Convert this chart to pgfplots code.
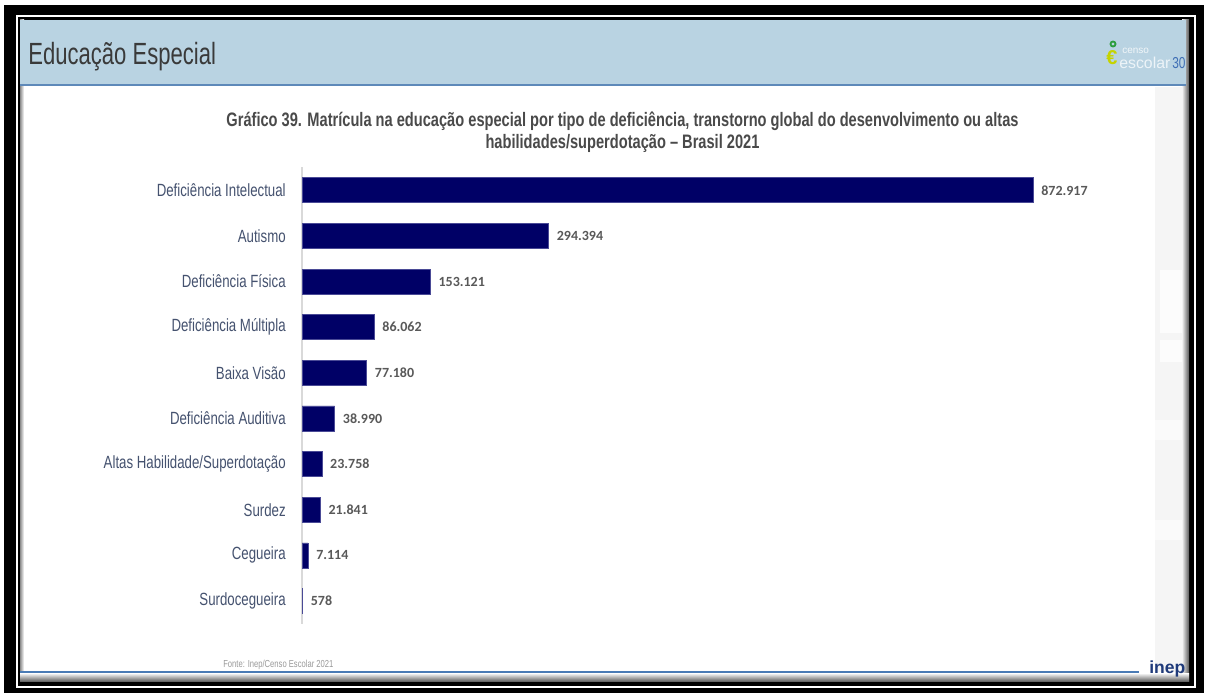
\documentclass[border=0pt]{standalone}
\usepackage{fontspec}
\setmainfont{Liberation Sans}
\newfontfamily\cond{Liberation Sans}[FakeStretch=0.75]
\newfontfamily\tcond{Liberation Sans}[FakeStretch=0.75]
\newfontfamily\hcond{Liberation Sans}[FakeStretch=0.72]
\newfontfamily\calib{Carlito}
\usepackage{pgfplots}
\pgfplotsset{compat=1.18}
\definecolor{navy}{HTML}{000066}
\definecolor{navyb}{HTML}{4A4A96}
\definecolor{hdr}{HTML}{B9D3E2}
\definecolor{hdrline}{HTML}{5E89B9}
\definecolor{lab}{HTML}{45526F}
\definecolor{tit}{HTML}{3A3A3A}
\definecolor{ttl}{HTML}{4A4A4A}
\definecolor{val}{HTML}{595959}
\definecolor{logoyel}{HTML}{C5D300}
\definecolor{logogreen}{HTML}{2E9E3E}
\definecolor{logoblue}{HTML}{3F6FB5}
\definecolor{inepblue}{HTML}{1F3A7A}
\definecolor{botline}{HTML}{4A7BB5}
\begin{document}
\begin{tikzpicture}[x=0.6pt,y=-0.6pt]
% frame
\fill[white] (0,0) rectangle (1206,693);
\fill[black] (4,5) rectangle (1204,693);
\draw[white,line width=1.2pt] (16.5,16.5) rectangle (1195,686.5);
\fill[white] (20,20) rectangle (1189,681);
% right watermark
\fill[black!4] (1155,87) rectangle (1189,672);
\fill[white!70!black!4] (1160,270) rectangle (1186,333);
\fill[white!70!black!4] (1160,340) rectangle (1186,362);
\fill[white!98!black] (1155,420) rectangle (1189,440);
\fill[white!98!black] (1155,520) rectangle (1189,540);
\shade[left color=black!5, right color=black!65] (1182,20) rectangle (1189,681);
\shade[left color=black!45, right color=white] (20,20) rectangle (24,681);
% bottom gradient
\shade[top color=white, bottom color=black!60] (20,673) rectangle (1189,681);
% header
\fill[hdr] (20,20) rectangle (1186,85);
\draw[hdrline,line width=1.5pt] (20,85) -- (1186,85);
\node[anchor=base west, inner sep=0pt, font=\hcond\fontsize{18.4}{20}\selectfont, color=tit] at (28,65) {Educação Especial};
% logo
\draw[logogreen, line width=1.1pt] (1113,44) circle (2.5);
\node[anchor=center, inner sep=0pt, font=\bfseries\fontsize{12}{12}\selectfont, color=logoyel] at (1112,58) {€};
\node[anchor=base west, inner sep=0pt, font=\fontsize{6}{6}\selectfont, color=white!80!hdr] at (1122,53.5) {censo};
\node[anchor=base west, inner sep=0pt, font=\fontsize{9.5}{9.5}\selectfont, color=white!75!hdr] at (1119,69) {escolar};
\node[anchor=base west, inner sep=0pt, font=\cond\fontsize{9.5}{9.5}\selectfont, color=logoblue] at (1172,69) {30};
% title
\node[anchor=base, inner sep=0pt, font=\tcond\bfseries\fontsize{11.7}{13}\selectfont, color=ttl] at (622.5,126) {Gráfico 39. Matrícula na educação especial por tipo de deficiência, transtorno global do desenvolvimento ou altas};
\node[anchor=base, inner sep=0pt, font=\tcond\bfseries\fontsize{11.7}{13}\selectfont, color=ttl] at (622.5,148) {habilidades/superdotação – Brasil 2021};
% footer
\node[anchor=base west, inner sep=0pt, font=\cond\fontsize{6.1}{7}\selectfont, color=black!40] at (223,667) {Fonte: Inep/Censo Escolar 2021};
\draw[botline, line width=0.9pt] (20,672) -- (1139,672);
\node[anchor=base west, inner sep=0pt, font=\bfseries\fontsize{10.5}{10.5}\selectfont, color=inepblue] at (1149,673) {inep};
% chart
\begin{axis}[
  at={(181.2pt,-374.28pt)}, anchor=south west,
  scale only axis, width=478.8pt, height=273.84pt,
  xbar, bar width=15pt,
  xmin=0, xmax=952913,
  ymin=-0.5, ymax=9.5, y dir=reverse,
  axis x line=none, axis y line*=left,
  y axis line style={-, draw=black!15, line width=0.8pt},
  ytick={0,...,9},
  yticklabels={Deficiência Intelectual, Autismo, Deficiência Física, Deficiência Múltipla, Baixa Visão, Deficiência Auditiva, Altas Habilidade/Superdotação, Surdez, Cegueira, Surdocegueira},
  major tick length=0pt, ytick style={draw=none},
  yticklabel style={font=\cond\fontsize{10.6}{12}\selectfont, color=lab, inner sep=0pt, anchor=east, xshift=-9.6pt},
  point meta=explicit symbolic,
  nodes near coords,
  nodes near coords style={font=\calib\bfseries\fontsize{8.4}{10}\selectfont, color=val, anchor=west, inner sep=0pt, xshift=4.8pt},
  clip=false,
]
\addplot[fill=navy, draw=navyb, line width=0.4pt] coordinates {
  (872917,0) [872.917]
  (294394,1) [294.394]
  (153121,2) [153.121]
  (86062,3) [86.062]
  (77180,4) [77.180]
  (38990,5) [38.990]
  (23758,6) [23.758]
  (21841,7) [21.841]
  (7114,8) [7.114]
  (578,9) [578]
};
\end{axis}
\end{tikzpicture}
\end{document}
